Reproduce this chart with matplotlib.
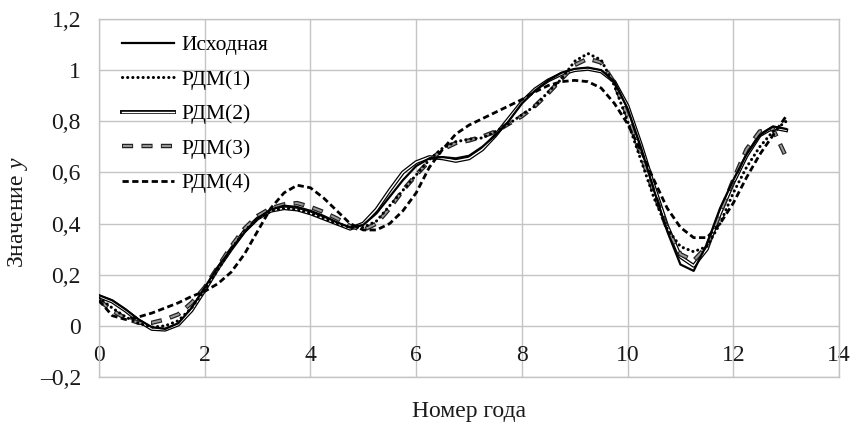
import matplotlib
matplotlib.use("Agg")
import matplotlib.pyplot as plt
from matplotlib.legend_handler import HandlerTuple

plt.rcParams['font.family'] = ['Liberation Serif', 'DejaVu Serif']
plt.rcParams['mathtext.fontset'] = 'custom'
plt.rcParams['mathtext.it'] = 'Liberation Serif:italic'
plt.rcParams['mathtext.rm'] = 'Liberation Serif'
plt.rcParams['lines.scale_dashes'] = False

# ---- data ----
years = [i * 0.25 for i in range(53)]  # 0 ... 13 step 0.25

y_orig = [0.12, 0.10, 0.065, 0.025, -0.005, -0.012, 0.01, 0.07, 0.15, 0.23, 0.30, 0.365,
          0.42, 0.455, 0.47, 0.465, 0.45, 0.43, 0.405, 0.385, 0.395, 0.44, 0.505, 0.57,
          0.625, 0.655, 0.66, 0.655, 0.665, 0.70, 0.745, 0.80, 0.87, 0.92, 0.96, 0.99,
          1.005, 1.01, 1.0, 0.955, 0.85, 0.70, 0.53, 0.37, 0.24, 0.215, 0.32, 0.46,
          0.57, 0.67, 0.745, 0.78, 0.77]

y_rdm1 = [0.11, 0.07, 0.035, 0.01, -0.005, 0.0, 0.02, 0.07, 0.14, 0.22, 0.30, 0.37,
          0.42, 0.45, 0.46, 0.455, 0.44, 0.42, 0.40, 0.385, 0.385, 0.41, 0.47, 0.53,
          0.59, 0.65, 0.695, 0.72, 0.73, 0.735, 0.76, 0.79, 0.825, 0.86, 0.915, 0.965,
          1.035, 1.065, 1.04, 0.94, 0.80, 0.65, 0.50, 0.38, 0.31, 0.29, 0.31, 0.40,
          0.52, 0.62, 0.70, 0.76, 0.80]

y_rdm2 = [0.115, 0.095, 0.06, 0.02, -0.012, -0.015, 0.005, 0.06, 0.14, 0.225, 0.30, 0.37,
          0.42, 0.45, 0.46, 0.455, 0.44, 0.42, 0.40, 0.38, 0.40, 0.455, 0.53, 0.60,
          0.64, 0.66, 0.655, 0.645, 0.655, 0.69, 0.745, 0.81, 0.875, 0.925, 0.96, 0.985,
          1.0, 1.005, 0.995, 0.955, 0.86, 0.71, 0.545, 0.39, 0.27, 0.235, 0.30, 0.44,
          0.56, 0.665, 0.745, 0.775, 0.765]

y_rdm3 = [0.10, 0.06, 0.03, 0.012, 0.012, 0.025, 0.045, 0.09, 0.15, 0.23, 0.31, 0.38,
          0.43, 0.46, 0.475, 0.48, 0.465, 0.445, 0.42, 0.39, 0.375, 0.40, 0.46, 0.53,
          0.59, 0.645, 0.69, 0.715, 0.725, 0.74, 0.76, 0.79, 0.82, 0.86, 0.91, 0.965,
          1.02, 1.045, 1.03, 0.95, 0.82, 0.67, 0.52, 0.38, 0.28, 0.255, 0.31, 0.44,
          0.57, 0.69, 0.76, 0.77, 0.66]

y_rdm4 = [0.10, 0.04, 0.025, 0.035, 0.05, 0.07, 0.09, 0.115, 0.135, 0.165, 0.21, 0.28,
          0.37, 0.46, 0.52, 0.55, 0.54, 0.50, 0.45, 0.40, 0.375, 0.375, 0.40, 0.45,
          0.52, 0.62, 0.69, 0.75, 0.785, 0.81, 0.835, 0.86, 0.885, 0.915, 0.94, 0.955,
          0.96, 0.955, 0.93, 0.87, 0.79, 0.685, 0.57, 0.46, 0.385, 0.345, 0.345, 0.40,
          0.48, 0.58, 0.67, 0.745, 0.82]

labels = ["Исходная", "РДМ(1)", "РДМ(2)", "РДМ(3)", "РДМ(4)"]
xticks = [0, 2, 4, 6, 8, 10, 12, 14]
yticks = [-0.2, 0, 0.2, 0.4, 0.6, 0.8, 1.0, 1.2]
ytick_labels = ["–0,2", "0", "0,2", "0,4", "0,6", "0,8", "1", "1,2"]
xlabel = "Номер года"
ylabel = "Значение $y$"

# ---- figure ----
W, H = 851, 428
fig = plt.figure(figsize=(W / 100, H / 100), dpi=100)
ax = fig.add_axes([99 / W, 1 - 377 / H, (839 - 99) / W, (377 - 19) / H])

grid_c = "#c4c4c4"
ax.set_xlim(0, 14)
ax.set_ylim(-0.2, 1.2)
ax.set_xticks(xticks)
ax.set_xticklabels([str(t) for t in xticks])
ax.set_yticks(yticks)
ax.set_yticklabels(ytick_labels)
ax.grid(True, color=grid_c, lw=1.0, zorder=0)
ax.set_axisbelow(True)
for s in ["top", "left", "right"]:
    ax.spines[s].set_color(grid_c)
    ax.spines[s].set_linewidth(1.0)
ax.spines["bottom"].set_position(("data", 0))
ax.spines["bottom"].set_color("none")
ax.axhline(-0.2, color=grid_c, lw=1.0, clip_on=False, zorder=0)
ax.tick_params(axis="both", length=0, labelsize=17, colors="#1a1a1a")
ax.tick_params(axis="x", pad=14)
ax.tick_params(axis="y", pad=13)

# series
l0, = ax.plot(years, y_orig, color="black", lw=1.6, zorder=5)
l1, = ax.plot(years, y_rdm1, color="black", lw=2.2, linestyle=(0, (0.1, 3.6)),
              dash_capstyle="round", zorder=4)
l2a, = ax.plot(years, y_rdm2, color="black", lw=2.8, zorder=3)
l2b, = ax.plot(years, y_rdm2, color="white", lw=1.0, zorder=3.1)
l3a, = ax.plot(years, y_rdm3, color="#222222", lw=3.2, linestyle=(0, (8, 6)), zorder=3.5)
l3b, = ax.plot(years, y_rdm3, color="#9a9a9a", lw=1.4, linestyle=(13.3, (6.6, 7.4)), zorder=3.6)
l4, = ax.plot(years, y_rdm4, color="black", lw=2.0, linestyle=(0, (4.5, 2.5)), zorder=4.5)

handles = [l0, l1, (l2a, l2b), (l3a, l3b), l4]
leg = fig.legend(handles, labels, loc="upper left",
                 bbox_to_anchor=(122 / W, 1 - 35 / H), frameon=False,
                 fontsize=15.5, handlelength=2.4, handletextpad=0.35,
                 labelspacing=0.67, borderpad=0, borderaxespad=0,
                 handler_map={tuple: HandlerTuple(ndivide=1, pad=0)})

fig.text(469 / W, 1 - 411 / H, xlabel, ha="center", va="center", fontsize=17,
         color="#1a1a1a")
fig.text(18 / W, 1 - 212 / H, ylabel, ha="center", va="center", rotation=90,
         fontsize=17, color="#1a1a1a")

fig.savefig("out.png", dpi=100)
